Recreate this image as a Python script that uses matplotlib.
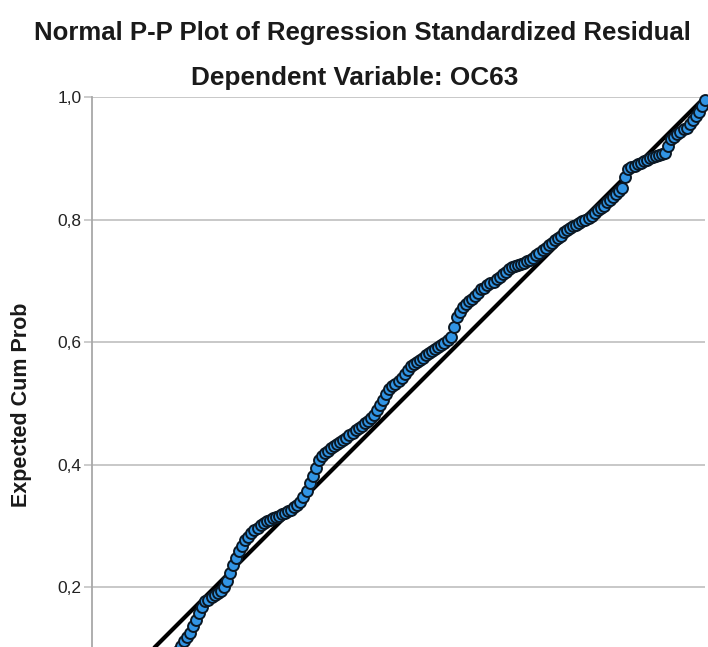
import matplotlib
matplotlib.use("Agg")
import matplotlib.pyplot as plt

plt.rcParams['font.family'] = ['Liberation Sans', 'DejaVu Sans']

title = "Normal P-P Plot of Regression Standardized Residual"
subtitle = "Dependent Variable: OC63"
ylabel = "Expected Cum Prob"
yticks = [0.2, 0.4, 0.6, 0.8, 1.0]
ytick_labels = ["0,2", "0,4", "0,6", "0,8", "1,0"]

obs_hidden = [0.01, 0.02, 0.03, 0.04, 0.05, 0.06, 0.07, 0.08, 0.09, 0.10, 0.11, 0.12, 0.13]
exp_hidden = [0.006, 0.012, 0.018, 0.025, 0.032, 0.040, 0.047, 0.054, 0.061, 0.068, 0.075, 0.082, 0.088]

obs = [0.135, 0.140, 0.145, 0.150, 0.155, 0.160, 0.165, 0.170, 0.175, 0.180,
       0.185, 0.190, 0.195, 0.200, 0.205, 0.210, 0.215, 0.220, 0.225, 0.230,
       0.235, 0.240, 0.245, 0.250, 0.255, 0.260, 0.265, 0.270, 0.275, 0.280,
       0.285, 0.290, 0.295, 0.300, 0.305, 0.310, 0.315, 0.320, 0.325, 0.330,
       0.335, 0.340, 0.345, 0.350, 0.355, 0.360, 0.365, 0.370, 0.375, 0.380,
       0.385, 0.390, 0.395, 0.400, 0.405, 0.410, 0.415, 0.420, 0.425, 0.430,
       0.435, 0.440, 0.445, 0.450, 0.455, 0.460, 0.465, 0.470, 0.475, 0.480,
       0.485, 0.490, 0.495, 0.500, 0.505, 0.510, 0.515, 0.520, 0.525, 0.530,
       0.535, 0.540, 0.545, 0.550, 0.555, 0.560, 0.565, 0.570, 0.575, 0.580,
       0.585, 0.590, 0.595, 0.600, 0.605, 0.610, 0.615, 0.620, 0.625, 0.630,
       0.635, 0.640, 0.645, 0.650, 0.655, 0.660, 0.665, 0.670, 0.675, 0.680,
       0.685, 0.690, 0.695, 0.700, 0.705, 0.710, 0.715, 0.720, 0.725, 0.730,
       0.735, 0.740, 0.745, 0.750, 0.755, 0.760, 0.765, 0.770, 0.775, 0.780,
       0.785, 0.790, 0.795, 0.800, 0.805, 0.810, 0.815, 0.820, 0.825, 0.830,
       0.835, 0.840, 0.845, 0.850, 0.855, 0.860, 0.865, 0.870, 0.875, 0.880,
       0.885, 0.890, 0.895, 0.900, 0.905, 0.910, 0.915, 0.920, 0.925, 0.930,
       0.935, 0.940, 0.945, 0.950, 0.955, 0.960, 0.965, 0.970, 0.975, 0.980,
       0.985, 0.990, 0.995, 1.000]
exp = [0.090, 0.097, 0.104, 0.112, 0.119, 0.126, 0.137, 0.147, 0.158, 0.168,
       0.177, 0.180, 0.184, 0.187, 0.191, 0.194, 0.201, 0.211, 0.223, 0.237,
       0.248, 0.259, 0.268, 0.277, 0.282, 0.288, 0.293, 0.297, 0.301, 0.305,
       0.308, 0.310, 0.313, 0.315, 0.317, 0.320, 0.322, 0.325, 0.327, 0.331,
       0.335, 0.340, 0.348, 0.358, 0.370, 0.382, 0.395, 0.408, 0.415, 0.419,
       0.423, 0.427, 0.430, 0.434, 0.437, 0.441, 0.444, 0.448, 0.452, 0.456,
       0.460, 0.464, 0.468, 0.472, 0.476, 0.481, 0.489, 0.497, 0.506, 0.515,
       0.523, 0.528, 0.532, 0.536, 0.542, 0.548, 0.555, 0.561, 0.564, 0.568,
       0.571, 0.575, 0.579, 0.583, 0.586, 0.589, 0.592, 0.595, 0.598, 0.603,
       0.609, 0.625, 0.641, 0.649, 0.657, 0.662, 0.667, 0.671, 0.676, 0.681,
       0.686, 0.689, 0.693, 0.696, 0.699, 0.703, 0.707, 0.711, 0.715, 0.719,
       0.722, 0.724, 0.726, 0.728, 0.730, 0.732, 0.734, 0.738, 0.742, 0.746,
       0.750, 0.754, 0.758, 0.762, 0.766, 0.770, 0.774, 0.779, 0.783, 0.786,
       0.789, 0.792, 0.794, 0.797, 0.800, 0.803, 0.806, 0.811, 0.815, 0.819,
       0.823, 0.828, 0.832, 0.837, 0.842, 0.847, 0.852, 0.869, 0.882, 0.885,
       0.887, 0.890, 0.892, 0.895, 0.897, 0.900, 0.902, 0.904, 0.905, 0.907,
       0.909, 0.920, 0.932, 0.935, 0.939, 0.943, 0.947, 0.950, 0.956, 0.963,
       0.969, 0.976, 0.985, 0.995]

W, H = 708, 647
fig = plt.figure(figsize=(W / 100, H / 100), dpi=100)
fig.patch.set_facecolor('white')

# axes extends below the visible canvas (the reference is a crop)
ax_l, ax_r, ax_t, ax_b = 92, 705, 97, 710
ax = fig.add_axes([ax_l / W, 1 - ax_b / H, (ax_r - ax_l) / W, (ax_b - ax_t) / H])
ax.set_xlim(0, 1)
ax.set_ylim(0, 1)

grid_c = '#c4c4c4'
for s in ['right', 'bottom', 'top']:
    ax.spines[s].set_visible(False)
ax.spines['left'].set_color('#a8a8a8')
ax.spines['left'].set_linewidth(1.3)

ax.set_yticks(yticks)
ax.set_yticklabels(ytick_labels)
ax.tick_params(axis='y', length=6, width=1.2, color=grid_c, pad=1.5,
               labelsize=12.5, labelcolor='#222222')
ax.set_xticks([])
ax.grid(axis='y', color=grid_c, linewidth=1.3, zorder=0)
ax.set_axisbelow(True)

ax.plot([0, 1], [0, 1], color='black', linewidth=3.0, zorder=2,
        solid_capstyle='butt')
ax.scatter(obs_hidden + obs, exp_hidden + exp, s=62, c='#3194e4',
           edgecolors='#0b1824', linewidths=1.4, zorder=3, clip_on=False)

fig.text(362 / W, 1 - 33 / H, title, ha='center', va='center',
         fontsize=18.5, fontweight='bold', color='#1a1a1a')
fig.text(355 / W, 1 - 78 / H, subtitle, ha='center', va='center',
         fontsize=18.8, fontweight='bold', color='#1a1a1a')
fig.text(22 / W, 1 - 405 / H, ylabel, ha='center', va='center',
         rotation=90, fontsize=15.5, fontweight='bold', color='#1a1a1a')

fig.savefig('out.png', dpi=100, facecolor='white')
